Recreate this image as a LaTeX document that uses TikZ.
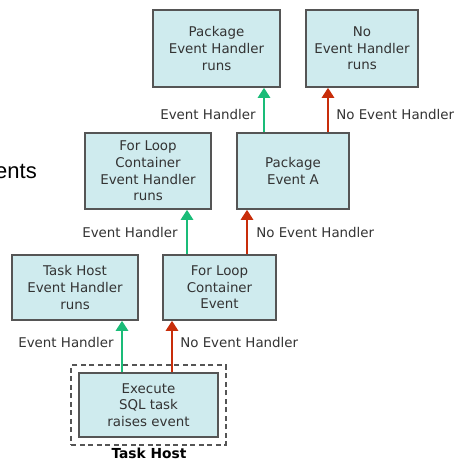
\documentclass[tikz,border=0pt]{standalone}
\usepackage{fontspec}
\setmainfont{DejaVu Sans}
\newfontfamily\slidefont{Liberation Sans}
\usetikzlibrary{positioning,arrows.meta,fit}
\definecolor{boxfill}{RGB}{207,235,238}
\definecolor{boxline}{RGB}{85,85,85}
\definecolor{labelgray}{RGB}{51,51,51}
\definecolor{handlergreen}{RGB}{26,188,120}
\definecolor{nohandlerred}{RGB}{200,45,10}

\tikzset{
  evbox/.style={draw=boxline, line width=1.5pt, fill=boxfill, text=labelgray,
    align=center, inner sep=0pt, font=\fontsize{13.4}{16.7}\selectfont},
  yesarrow/.style={draw=handlergreen, line width=2.6pt, -{Triangle[width=12pt,length=10pt]}},
  noarrow/.style={draw=nohandlerred, line width=2.6pt, -{Triangle[width=12pt,length=10pt]}},
  lbl/.style={text=labelgray, inner sep=0pt, font=\fontsize{13.4}{16.7}\selectfont}
}

\begin{document}
\begin{tikzpicture}[x=1pt,y=-1pt]
\useasboundingbox (0,0) rectangle (457,460);

% top row
\node[evbox, minimum width=127pt, minimum height=77pt] (pkgrun) at (216.5,48.5) {Package\\Event Handler\\runs};
\node[evbox, minimum width=112pt, minimum height=77pt] (norun) at (362,48.5) {No\\Event Handler\\runs};

% second row
\node[evbox, minimum width=126pt, minimum height=76pt] (looprun) at (148,171) {For Loop\\Container\\Event Handler\\runs};
\node[evbox, minimum width=112pt, minimum height=76pt] (pkgev) at (293,171) {Package\\Event A};

% third row
\node[evbox, minimum width=126pt, minimum height=65pt] (hostrun) at (75,287.5) {Task Host\\Event Handler\\runs};
\node[evbox, minimum width=113pt, minimum height=65pt] (loopev) at (219.5,287.5) {For Loop\\Container\\Event};

% the task that raises the event, inside its host
\node[evbox, minimum width=139pt, minimum height=64pt] (exec) at (148.5,405) {Execute\\SQL task\\raises event};
\node[draw=boxline, line width=1.6pt, dash pattern=on 5pt off 3.5pt, inner sep=7pt, fit=(exec)] (host) {};
\node[lbl, font=\fontsize{13.8}{16}\selectfont\bfseries, text=black] (hostname) at (149,453) {Task Host};

% bubbling up
\draw[yesarrow] ([xshift=-26.5pt]exec.north) -- ([xshift=-26.5pt]exec.north |- hostrun.south)
  node[lbl, pos=0.57, left=7pt] {Event Handler};
\draw[noarrow] ([xshift=23.5pt]exec.north) -- ([xshift=23.5pt]exec.north |- loopev.south)
  node[lbl, pos=0.57, right=7pt] {No Event Handler};

\draw[yesarrow] ([xshift=-32.5pt]loopev.north) -- ([xshift=-32.5pt]loopev.north |- looprun.south)
  node[lbl, pos=0.48, left=8pt] {Event Handler};
\draw[noarrow] ([xshift=27.5pt]loopev.north) -- ([xshift=27.5pt]loopev.north |- pkgev.south)
  node[lbl, pos=0.48, right=8pt] {No Event Handler};

\draw[yesarrow] ([xshift=-29pt]pkgev.north) -- ([xshift=-29pt]pkgev.north |- pkgrun.south)
  node[lbl, pos=0.4, left=7pt] {Event Handler};
\draw[noarrow] ([xshift=35pt]pkgev.north) -- ([xshift=35pt]pkgev.north |- norun.south)
  node[lbl, pos=0.4, right=7pt] {No Event Handler};

% cut-off slide text on the left
\node[anchor=base east, inner sep=0pt, font=\slidefont\fontsize{22}{26}\selectfont] (slidetext) at (37,178) {ents};
\end{tikzpicture}
\end{document}
